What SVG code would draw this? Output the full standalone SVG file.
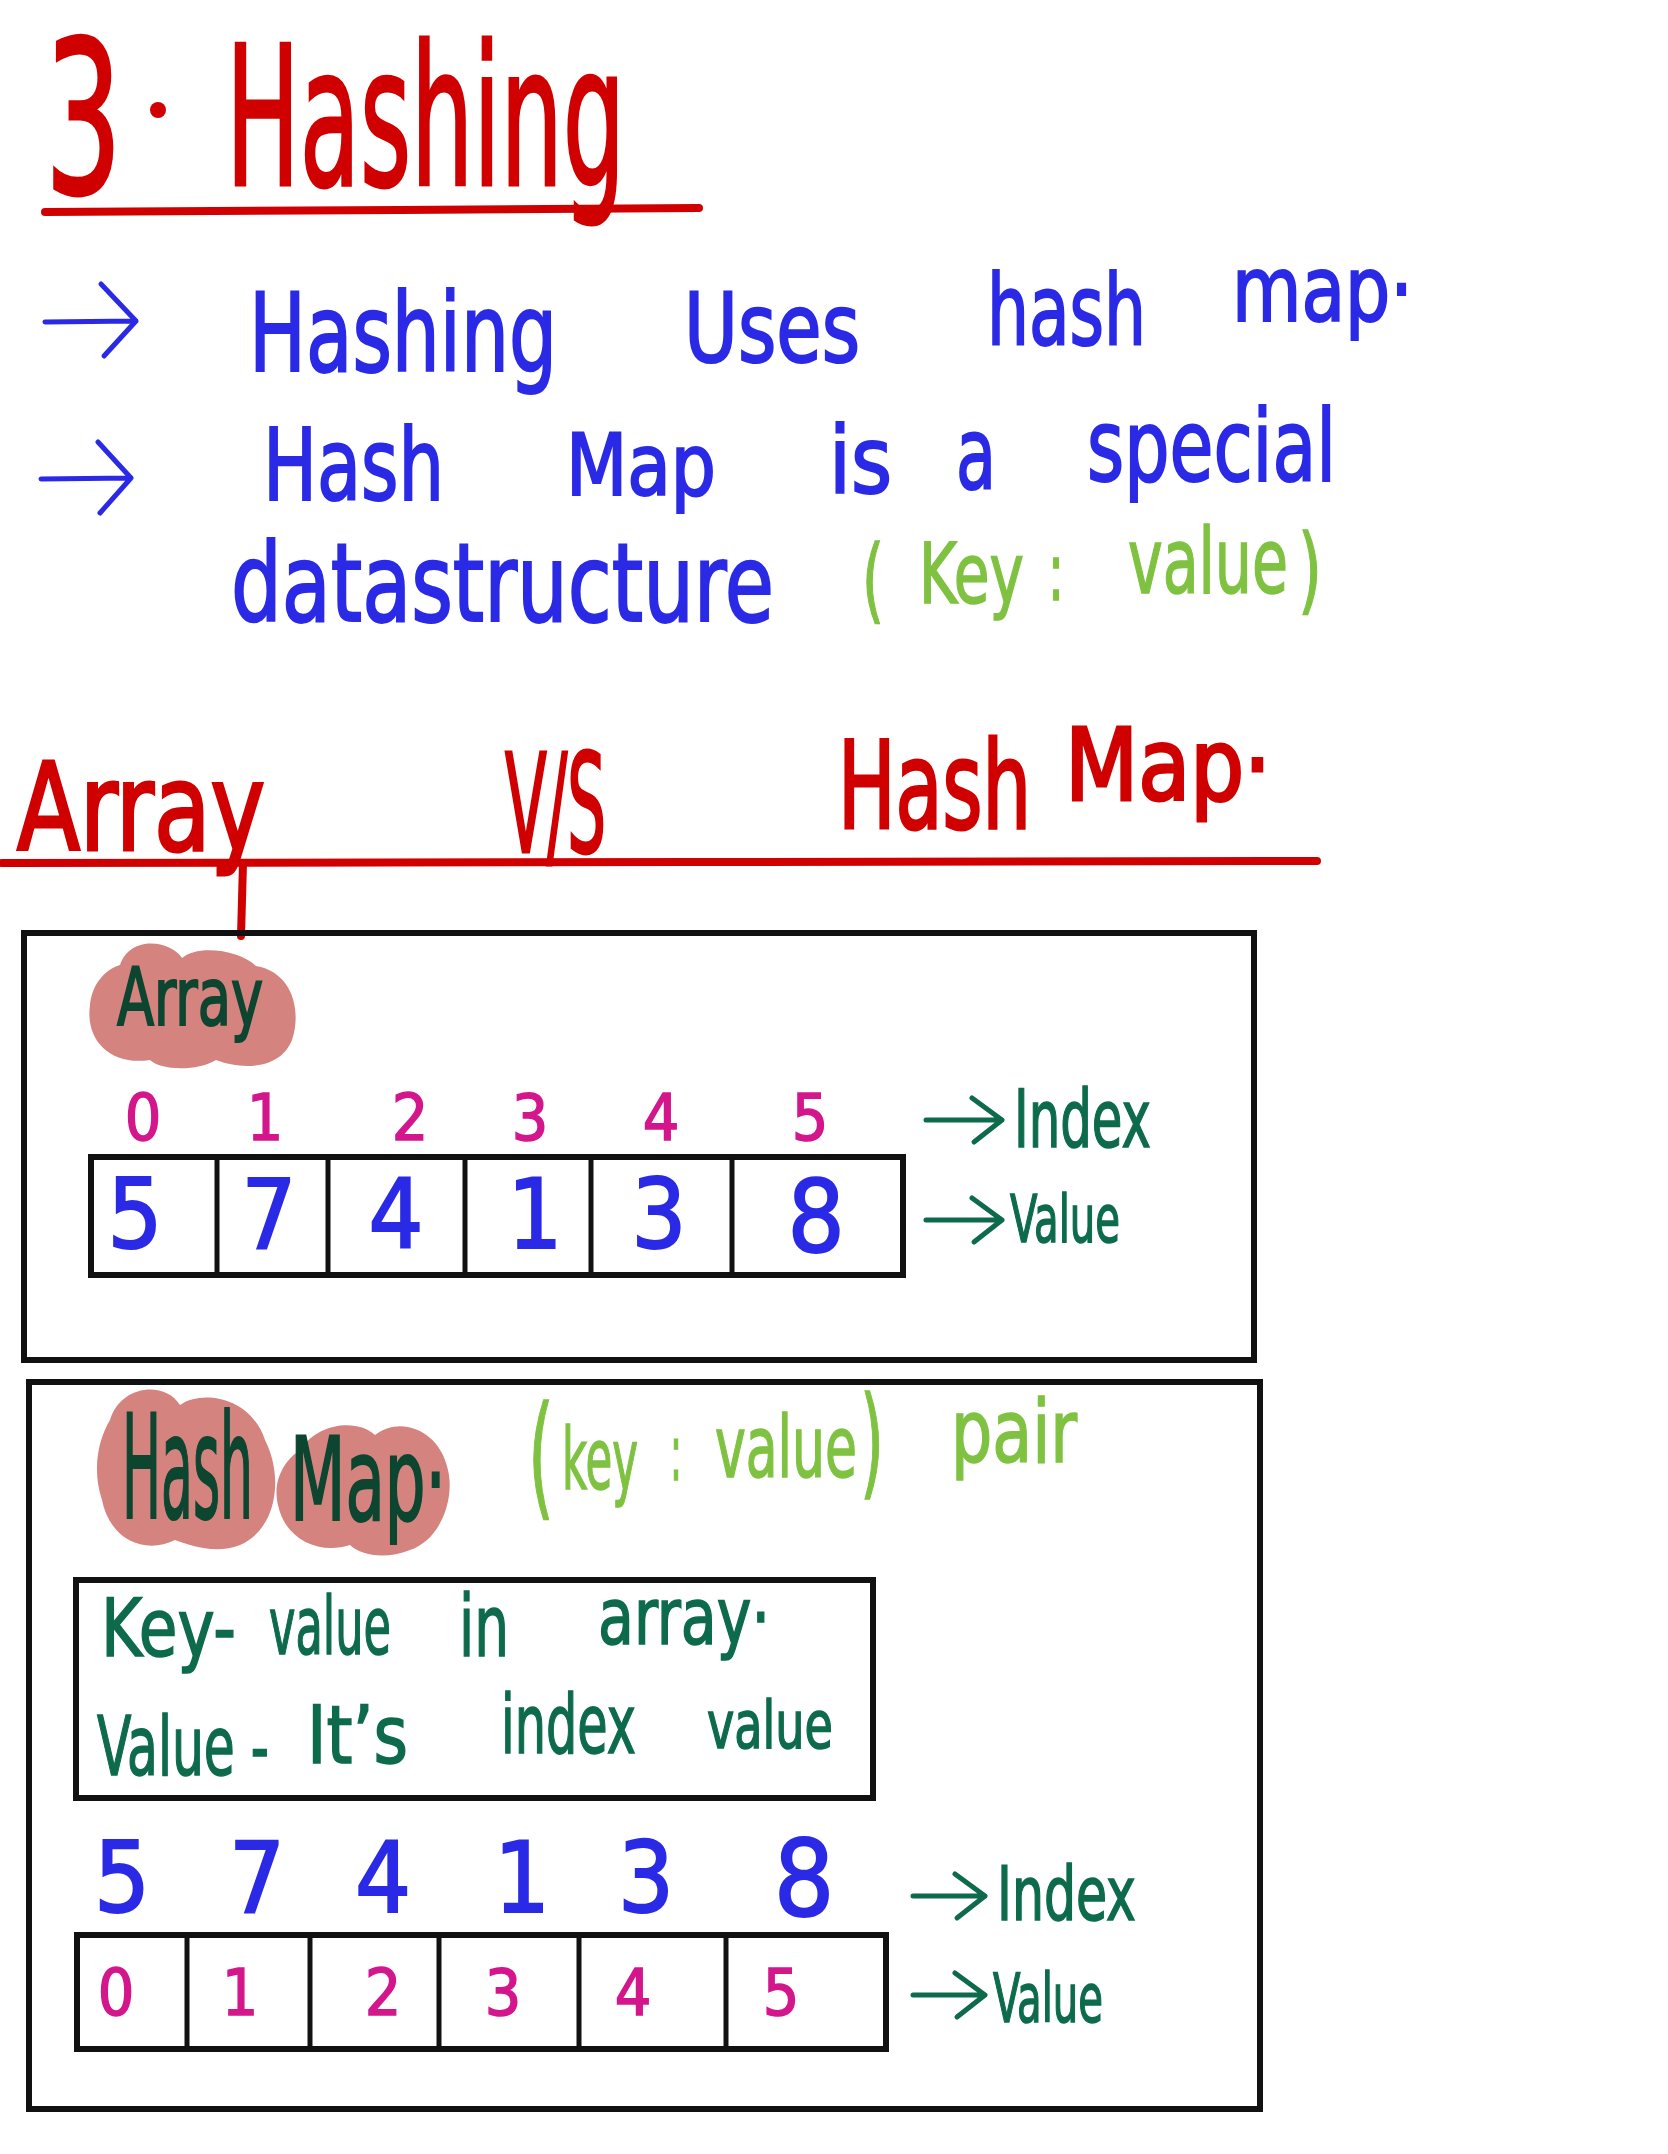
<svg xmlns="http://www.w3.org/2000/svg" width="1668" height="2154" viewBox="0 0 1668 2154">
<style>
text{font-family:"Liberation Sans Narrow","DejaVu Sans Condensed","Liberation Sans",sans-serif;}
.red{fill:#d00000;stroke:#d00000;stroke-width:3;}
.blue{fill:#2a2ae6;stroke:#2a2ae6;stroke-width:2;}
.lime{fill:#7fc241;stroke:#7fc241;stroke-width:1.5;}
.dg{fill:#0d6b4c;stroke:#0d6b4c;stroke-width:1.5;}
.dk{fill:#0c4530;stroke:#0c4530;stroke-width:2;}
.pink{fill:#d4168c;stroke:#d4168c;stroke-width:1.5;}
.mid{text-anchor:middle;}
.box{fill:none;stroke:#111;stroke-width:6;}
.div{fill:none;stroke:#111;stroke-width:5;}
.blob{fill:#d4837f;}
.arb{fill:none;stroke:#2a2ae6;stroke-width:5;stroke-linecap:round;stroke-linejoin:round;}
.arg{fill:none;stroke:#0d6b4c;stroke-width:5;stroke-linecap:round;stroke-linejoin:round;}
.rline{fill:none;stroke:#d00000;stroke-width:8;stroke-linecap:round;}
</style>
<rect width="1668" height="2154" fill="#ffffff"/>

<g id="title">
<text class="red" x="45" y="193" font-size="212" textLength="77" lengthAdjust="spacingAndGlyphs">3</text>
<circle cx="158" cy="110" r="8" fill="#d00000"/>
<text class="red" x="226" y="185" font-size="195" textLength="399" lengthAdjust="spacingAndGlyphs">Hashing</text>
<path class="rline" d="M45 212 L400 210 L699 208"/>
</g>

<g id="line1">
<text class="blue" x="249" y="371" font-size="108" textLength="308" lengthAdjust="spacingAndGlyphs">Hashing</text>
<text class="blue" x="684" y="362" font-size="96" textLength="176" lengthAdjust="spacingAndGlyphs">Uses</text>
<text class="blue" x="987" y="345" font-size="98" textLength="159" lengthAdjust="spacingAndGlyphs">hash</text>
<text class="blue" x="1232" y="321" font-size="90" textLength="181" lengthAdjust="spacingAndGlyphs">map·</text>
</g>

<g id="line2">
<text class="blue" x="263" y="500" font-size="100" textLength="181" lengthAdjust="spacingAndGlyphs">Hash</text>
<text class="blue" x="566" y="495" font-size="85" textLength="150" lengthAdjust="spacingAndGlyphs">Map</text>
<text class="blue" x="829" y="493" font-size="92" textLength="63" lengthAdjust="spacingAndGlyphs">is</text>
<text class="blue" x="956" y="489" font-size="100" textLength="40" lengthAdjust="spacingAndGlyphs">a</text>
<text class="blue" x="1087" y="481" font-size="100" textLength="249" lengthAdjust="spacingAndGlyphs">special</text>
</g>

<g id="line3">
<text class="blue" x="231" y="621" font-size="108" textLength="543" lengthAdjust="spacingAndGlyphs">datastructure</text>
<text class="lime" x="862" y="612" font-size="92" textLength="22" lengthAdjust="spacingAndGlyphs">(</text>
<text class="lime" x="919" y="603" font-size="84" textLength="105" lengthAdjust="spacingAndGlyphs">Key</text>
<text class="lime" x="1048" y="600" font-size="80" textLength="16" lengthAdjust="spacingAndGlyphs">:</text>
<text class="lime" x="1128" y="593" font-size="90" textLength="160" lengthAdjust="spacingAndGlyphs">value</text>
<text class="lime" x="1298" y="602" font-size="94" textLength="24" lengthAdjust="spacingAndGlyphs">)</text>
</g>

<g id="header">
<text class="red" x="17" y="850" font-size="121" textLength="248" lengthAdjust="spacingAndGlyphs">Array</text>
<text class="red" x="505" y="852" font-size="138" textLength="101" lengthAdjust="spacingAndGlyphs">V/S</text>
<text class="red" x="838" y="828" font-size="121" textLength="193" lengthAdjust="spacingAndGlyphs">Hash</text>
<text class="red" x="1065" y="800" font-size="100" textLength="206" lengthAdjust="spacingAndGlyphs">Map·</text>
<path class="rline" d="M2 863 L700 862 L1317 861"/>
<path class="rline" d="M243 863 L241 936"/>
</g>

<g id="arrows">
<path class="arb" d="M45 322 L136 321 M101 284 L136 321 L104 356"/>
<path class="arb" d="M41 479 L131 478 M98 442 L131 478 L100 513"/>
<path class="arg" d="M926 1120 L1002 1120 M972 1098 L1002 1120 L974 1142"/>
<path class="arg" d="M926 1220 L1002 1220 M972 1198 L1002 1220 L974 1242"/>
<path class="arg" d="M913 1896 L985 1896 M955 1874 L985 1896 L957 1918"/>
<path class="arg" d="M913 1995 L985 1995 M955 1973 L985 1995 L957 2017"/>
</g>

<g id="array-box">
<rect class="box" x="24" y="933" width="1230" height="427"/>
<path class="blob" d="M120 965 C130 935 170 940 182 958 C198 944 240 950 256 966 C292 972 302 1010 292 1040 C280 1070 242 1070 216 1060 C196 1072 160 1070 150 1060 C110 1066 85 1040 90 1005 C92 985 104 970 120 965 Z"/>
<text class="dk" x="117" y="1025" font-size="81" textLength="146" lengthAdjust="spacingAndGlyphs">Array</text>
<g id="array-index">
<text class="pink mid" x="143" y="1140" font-size="64">0</text>
<text class="pink mid" x="265" y="1140" font-size="64">1</text>
<text class="pink mid" x="410" y="1140" font-size="64">2</text>
<text class="pink mid" x="530" y="1140" font-size="64">3</text>
<text class="pink mid" x="661" y="1140" font-size="64">4</text>
<text class="pink mid" x="810" y="1140" font-size="64">5</text>
</g>
<text class="dg" x="1014" y="1147" font-size="80" textLength="137" lengthAdjust="spacingAndGlyphs">Index</text>
<g id="array-cells">
<rect class="box" x="91" y="1157" width="812" height="118"/>
<path class="div" d="M217 1157 V1275 M328 1157 V1275 M465 1157 V1275 M591 1157 V1275 M732 1157 V1275"/>
<text class="blue mid" x="135" y="1248" font-size="96">5</text>
<text class="blue mid" x="269" y="1248" font-size="96">7</text>
<text class="blue mid" x="396" y="1248" font-size="96">4</text>
<text class="blue mid" x="535" y="1248" font-size="96">1</text>
<text class="blue mid" x="659" y="1248" font-size="96">3</text>
<text class="blue mid" x="816" y="1252" font-size="100">8</text>
</g>
<text class="dg" x="1010" y="1242" font-size="66" textLength="110" lengthAdjust="spacingAndGlyphs">Value</text>
</g>

<g id="hashmap-box">
<rect class="box" x="29" y="1382" width="1231" height="727"/>
<path class="blob" d="M110 1420 C120 1385 165 1380 180 1405 C200 1390 250 1395 265 1440 C285 1480 275 1530 240 1545 C215 1555 190 1545 175 1540 C145 1555 110 1540 102 1500 C92 1470 98 1440 110 1420 Z"/>
<path class="blob" d="M300 1450 C320 1420 360 1420 375 1435 C400 1415 440 1430 448 1470 C455 1500 440 1540 410 1550 C385 1560 360 1555 350 1545 C320 1555 285 1540 278 1505 C272 1480 285 1460 300 1450 Z"/>
<text class="dk" x="122" y="1518" font-size="145" textLength="131" lengthAdjust="spacingAndGlyphs">Hash</text>
<text class="dk" x="290" y="1520" font-size="115" textLength="156" lengthAdjust="spacingAndGlyphs">Map·</text>
<text class="lime" x="528" y="1502" font-size="134" textLength="26" lengthAdjust="spacingAndGlyphs">(</text>
<text class="lime" x="562" y="1489" font-size="85" textLength="76" lengthAdjust="spacingAndGlyphs">key</text>
<text class="lime" x="670" y="1480" font-size="78" textLength="12" lengthAdjust="spacingAndGlyphs">:</text>
<text class="lime" x="715" y="1477" font-size="86" textLength="142" lengthAdjust="spacingAndGlyphs">value</text>
<text class="lime" x="860" y="1483" font-size="121" textLength="24" lengthAdjust="spacingAndGlyphs">)</text>
<text class="lime" x="951" y="1462" font-size="88" textLength="126" lengthAdjust="spacingAndGlyphs">pair</text>

<g id="note-box">
<rect class="box" x="76" y="1580" width="797" height="218"/>
<text class="dg" x="101" y="1656" font-size="80" textLength="135" lengthAdjust="spacingAndGlyphs">Key-</text>
<text class="dg" x="269" y="1654" font-size="80" textLength="122" lengthAdjust="spacingAndGlyphs">value</text>
<text class="dg" x="459" y="1656" font-size="85" textLength="50" lengthAdjust="spacingAndGlyphs">in</text>
<text class="dg" x="598" y="1644" font-size="78" textLength="172" lengthAdjust="spacingAndGlyphs">array·</text>
<text class="dg" x="97" y="1775" font-size="82" textLength="172" lengthAdjust="spacingAndGlyphs">Value -</text>
<text class="dg" x="307" y="1763" font-size="80" textLength="101" lengthAdjust="spacingAndGlyphs">It’s</text>
<text class="dg" x="501" y="1753" font-size="82" textLength="135" lengthAdjust="spacingAndGlyphs">index</text>
<text class="dg" x="707" y="1748" font-size="66" textLength="126" lengthAdjust="spacingAndGlyphs">value</text>
</g>

<g id="hashmap-index">
<text class="blue mid" x="122" y="1912" font-size="98">5</text>
<text class="blue mid" x="257" y="1912" font-size="98">7</text>
<text class="blue mid" x="383" y="1912" font-size="98">4</text>
<text class="blue mid" x="522" y="1912" font-size="98">1</text>
<text class="blue mid" x="646" y="1912" font-size="98">3</text>
<text class="blue mid" x="804" y="1916" font-size="106">8</text>
</g>
<text class="dg" x="997" y="1920" font-size="74" textLength="139" lengthAdjust="spacingAndGlyphs">Index</text>
<g id="hashmap-cells">
<rect class="box" x="77" y="1935" width="809" height="114"/>
<path class="div" d="M187 1935 V2049 M310 1935 V2049 M439 1935 V2049 M579 1935 V2049 M726 1935 V2049"/>
<text class="pink mid" x="116" y="2015" font-size="64">0</text>
<text class="pink mid" x="240" y="2015" font-size="64">1</text>
<text class="pink mid" x="383" y="2015" font-size="64">2</text>
<text class="pink mid" x="503" y="2015" font-size="64">3</text>
<text class="pink mid" x="633" y="2015" font-size="64">4</text>
<text class="pink mid" x="781" y="2015" font-size="64">5</text>
</g>
<text class="dg" x="993" y="2022" font-size="68" textLength="110" lengthAdjust="spacingAndGlyphs">Value</text>
</g>
</svg>
